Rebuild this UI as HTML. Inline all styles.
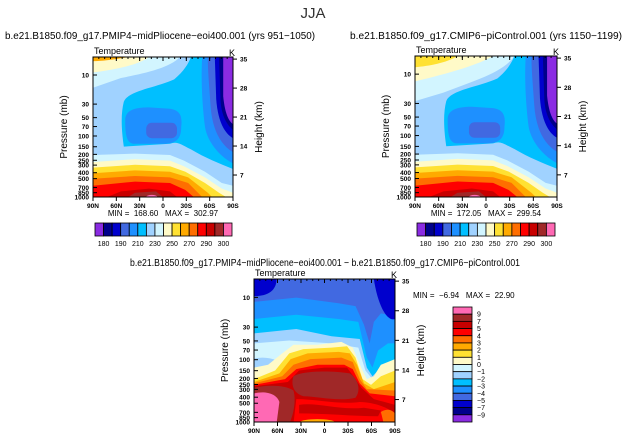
<!DOCTYPE html>
<html><head><meta charset="utf-8"><style>
html,body{margin:0;padding:0;background:#fff;}
svg{display:block;font-family:"Liberation Sans",sans-serif;}
</style></head><body>
<svg id="fig" width="627" height="440" viewBox="0 0 627 440" xmlns="http://www.w3.org/2000/svg">
<text x="313" y="18" font-size="15" text-anchor="middle" fill="#333">JJA</text>
<text x="5" y="39" font-size="10" textLength="310" lengthAdjust="spacingAndGlyphs">b.e21.B1850.f09_g17.PMIP4−midPliocene−eoi400.001  (yrs 951−1050)</text>
<text x="350" y="39" font-size="10" textLength="272" lengthAdjust="spacingAndGlyphs">b.e21.B1850.f09_g17.CMIP6−piControl.001  (yrs 1150−1199)</text>
<text x="130" y="266" font-size="10" textLength="390" lengthAdjust="spacingAndGlyphs">b.e21.B1850.f09_g17.PMIP4−midPliocene−eoi400.001  −  b.e21.B1850.f09_g17.CMIP6−piControl.001</text>
<g id="panels"></g>
</svg>
<script>
const NS="http://www.w3.org/2000/svg";
const lat=["90N","60N","30N","0","30S","60S","90S"];
const pTicks=[10,30,50,70,100,150,200,250,300,400,500,700,850,1000];
const zTicks=[35,28,21,14,7];
const absColors=["#8a2be2","#00008b","#0000cd","#4169e1","#1e90ff","#00bfff","#a0d2ff","#d2f5ff","#fffac8","#ffe132","#ffaa00","#ff6e00","#ff0000","#c80000","#a02828","#ff69b4"];
const absLabels=["180","190","210","230","250","270","290","300"];
const diffColors=["#ff69b4","#a02828","#c80000","#ff0000","#ff6e00","#ffaa00","#ffe132","#fffac8","#d2f5ff","#a0d2ff","#00bfff","#1e90ff","#4169e1","#0000cd","#00008b","#8a2be2"];
const diffLabels=["9","7","5","4","3","2","1","0","−1","−2","−3","−4","−5","−7","−9"];
const minmax=[["168.60","302.97"],["172.05","299.54"],["−6.94","22.90"]];

function el(tag,attrs,parent){const e=document.createElementNS(NS,tag);for(const k in attrs)e.setAttribute(k,attrs[k]);if(parent)parent.appendChild(e);return e;}
function band(pts){return "M"+pts.map(p=>p.join(",")).join(" L")+" L101,101 L-1,101 Z";}

const warmTop=[
 ["#d2f5ff",[[0,70],[30,69],[55,70],[65,74],[80,82],[92,90],[100,92]]],
 ["#fffac8",[[0,75],[30,73],[55,74],[65,78],[80,86],[92,94],[100,97]]],
 ["#ffe132",[[0,79],[30,77],[55,78],[66,82],[80,90],[90,97],[95,100]]],
 ["#ffaa00",[[0,83],[30,81],[55,82],[68,86],[82,97],[85,100]]],
 ["#ff6e00",[[0,87],[30,85],[55,86],[68,90],[78,100]]],
 ["#ff0000",[[0,92],[30,89],[55,90],[66,95],[72,100]]],
 ["#c80000",[[10,100],[20,96],[40,94],[55,96],[60,100]]],
 ["#a02828",[[25,100],[30,97],[45,96],[50,100]]]
];
function absShapes(g,variant){
  el("rect",{x:0,y:0,width:100,height:100,fill:"#a0d2ff"},g);
  if(variant===0){
    el("path",{d:"M0,0 L62,0 C55,8 35,12 20,15 L0,22 Z",fill:"#d2f5ff"},g);
    el("path",{d:"M0,0 L40,0 C32,6 15,9 0,11 Z",fill:"#fffac8"},g);
    el("path",{d:"M0,0 L25,0 C15,2 5,3 0,3 Z",fill:"#ffaa00"},g);
  } else {
    el("path",{d:"M0,0 L70,0 C62,12 40,18 20,26 L0,32 Z",fill:"#d2f5ff"},g);
    el("path",{d:"M0,0 L55,0 C45,6 25,12 0,18 Z",fill:"#fffac8"},g);
    el("path",{d:"M0,0 L30,0 C22,5 10,7 0,8 Z",fill:"#ffe132"},g);
  }
  el("path",{d:"M22,32 C25,24 45,22 58,16 C65,10 68,5 70,0 L100,0 L100,80 C90,76 80,72 70,66 C62,62 60,60 55,62 L22,64 C20,50 20,40 22,32 Z",fill:"#00bfff"},g);
  el("path",{d:"M23,45 C23,38 30,36 40,36 L55,37 C62,38 64,42 63,50 C63,58 60,62 50,62 L30,62 C24,62 23,56 23,45 Z",fill:"#1e90ff"},g);
  el("rect",{x:38,y:47,width:22,height:11,rx:4,fill:"#4169e1"},g);
  el("path",{d:"M78,0 L100,0 L100,76 C92,72 82,62 80,50 C78,35 77,15 78,0Z",fill:"#1e90ff"},g);
  el("path",{d:"M82,0 L100,0 L100,68 C90,62 85,50 84,35 C83,20 82,10 82,0Z",fill:"#4169e1"},g);
  el("path",{d:"M87,0 L100,0 L100,58 C93,54 89,44 88,30 Z",fill:"#0000cd"},g);
  el("path",{d:"M90,0 L100,0 L100,52 C95,48 91,40 91,28 Z",fill:"#00008b"},g);
  el("path",{d:"M93,0 L100,0 L100,48 C96,45 94,38 93,28 Z",fill:"#8a2be2"},g);
  warmTop.forEach(b=>el("path",{d:band(b[1]),fill:b[0]},g));
  el("ellipse",{cx:42,cy:100,rx:4,ry:1.5,fill:"#ff69b4"},g);
}
const diffBands=[
 ["#1e90ff",[[0,16],[30,13],[60,17],[72,19],[78,32],[82,45],[85,30],[90,24],[100,26]]],
 ["#00bfff",[[0,28],[30,25],[60,28],[74,30],[80,55],[84,62],[88,50],[95,45],[100,45]]],
 ["#a0d2ff",[[0,38],[30,35],[55,40],[75,42],[80,62],[84,68],[90,62],[100,58]]],
 ["#d2f5ff",[[0,45],[25,43],[55,45],[74,48],[79,64],[84,70],[92,64],[100,60]]],
 ["#fffac8",[[0,62],[10,60],[20,52],[28,46],[45,46],[62,44],[70,48],[76,62],[80,70],[85,68],[90,60],[100,56]]],
 ["#ffe132",[[0,70],[15,64],[25,52],[35,49],[55,48],[66,47],[72,55],[77,70],[83,74],[90,68],[100,64]]],
 ["#ffaa00",[[0,72],[18,66],[26,56],[38,52],[60,51],[68,52],[73,60],[78,73],[85,77],[100,72]]],
 ["#ff6e00",[[0,73],[20,68],[28,60],[40,56],[62,55],[70,58],[75,70],[80,77],[100,78]]],
 ["#ff0000",[[0,74],[22,70],[30,63],[45,60],[64,60],[70,63],[75,73],[82,80],[100,82]]],
 ["#c80000",[[0,75],[24,72],[32,64],[50,62],[66,62],[72,70],[76,76],[85,84],[100,88]]]
];
function diffShapes(g){
  el("rect",{x:0,y:0,width:100,height:100,fill:"#4169e1"},g);
  el("path",{d:"M0,0 L16,0 C16,8 10,12 0,12Z",fill:"#0000cd"},g);
  diffBands.forEach((b,i)=>{
    el("path",{d:band(b[1]),fill:b[0]},g);
    if(i===3){
      el("ellipse",{cx:6,cy:62,rx:14,ry:7,fill:"#a0d2ff"},g);
      el("ellipse",{cx:5,cy:66,rx:10,ry:4,fill:"#00bfff"},g);
    }
  });
  el("path",{d:"M85,0 L100,0 L100,28 C95,30 88,20 85,0Z",fill:"#0000cd"},g);
  el("path",{d:"M28,68 C35,64 55,64 68,66 C74,70 76,78 72,83 C60,86 45,82 35,82 C28,80 26,74 28,68 Z",fill:"#a02828"},g);
  el("path",{d:"M0,76 C10,74 22,74 28,78 C30,85 28,95 25,101 L0,101 Z",fill:"#a02828"},g);
  el("path",{d:"M30,84 C45,84 60,88 75,86 C85,86 95,90 100,94 L100,101 L28,101 Z",fill:"#ff0000"},g);
  el("path",{d:"M32,88 C45,86 60,92 78,90 L90,92 L88,96 C70,96 50,94 32,94 Z",fill:"#c80000"},g);
  el("path",{d:"M0,80 C8,78 16,80 18,86 L16,101 L0,101 Z",fill:"#ff69b4"},g);
  el("ellipse",{cx:45,cy:100,rx:12,ry:2,fill:"#ffaa00"},g);
  el("path",{d:"M90,93 C95,90 98,92 100,94 L100,101 L92,101 Z",fill:"#ff6e00"},g);
}

function panel(idx,x0,y0,w,h,shapesFn){
  const root=document.getElementById("panels");
  const g=el("g",{},root);
  
  
  const s=el("svg",{x:x0,y:y0,width:w,height:h,viewBox:"0 0 100 100",preserveAspectRatio:"none"},g);
  
  
  shapesFn(s);
  const frame=el("rect",{x:x0,y:y0,width:w,height:h,fill:"none",stroke:"#000","stroke-width":1},g);
  
  
  const yP=p=>y0+h-h*0.4357*(3-Math.log10(p));
  pTicks.forEach(p=>{
    const y=yP(p);
    el("line",{x1:x0,x2:x0+4,y1:y,y2:y,stroke:"#000"},g);
    const t=el("text",{x:x0-4,y:y+2.5,"font-size":6.5,"text-anchor":"end","font-weight":"bold"},g);
    t.textContent=p;
    
    
  });
  zTicks.forEach(z=>{
    const y=y0+h*(147/140)-h*(4.14/140)*z;
    el("line",{x1:x0+w,x2:x0+w+4,y1:y,y2:y,stroke:"#000"},g);
    const t=el("text",{x:x0+w+7,y:y+2.5,"font-size":6.5,"font-weight":"bold"},g);
    t.textContent=z;
    
    
  });
  lat.forEach((l,i)=>{
    const x=x0+w*i/(lat.length-1);
    el("line",{x1:x,x2:x,y1:y0+h,y2:y0+h+4,stroke:"#000"},g);
    el("line",{x1:x,x2:x,y1:y0,y2:y0+4,stroke:"#000"},g);
    const t=el("text",{x:x,y:y0+h+11,"font-size":6.5,"text-anchor":"middle","font-weight":"bold"},g);
    t.textContent=l;
    
    
  });
  for(let i=0;i<=24;i++){
    const x=x0+w*i/24;
    el("line",{x1:x,x2:x,y1:y0,y2:y0+2,stroke:"#000"},g);
  }
  const t1=el("text",{x:x0+1,y:y0-3,"font-size":9},g);t1.textContent="Temperature";
  
  const t2=el("text",{x:x0+w-4,y:y0-1,"font-size":9},g);t2.textContent="K";
  
  const yl=el("text",{x:0,y:0,"font-size":10,"text-anchor":"middle",transform:`translate(${x0-26},${y0+h/2}) rotate(-90)`},g);
  yl.textContent="Pressure (mb)";
  
  const yr=el("text",{x:0,y:0,"font-size":10,"text-anchor":"middle",transform:`translate(${x0+w+29},${y0+h/2}) rotate(-90)`},g);
  yr.textContent="Height (km)";
  
}

function hbar(x0,y0,w,h,labels){
  const root=document.getElementById("panels");
  const g=el("g",{},root);
  
  
  const bw=w/absColors.length;
  absColors.forEach((c,i)=>{
    const r=el("rect",{x:x0+i*bw,y:y0,width:bw,height:h,fill:c,stroke:"#000","stroke-width":0.8},g);
    
    
  });
  labels.forEach((l,i)=>{
    const t=el("text",{x:x0+bw*(1+2*i),y:y0+h+10,"font-size":7,"text-anchor":"middle"},g);
    t.textContent=l;
    
    
  });
}
function vbar(x0,y0,w,h){
  const root=document.getElementById("panels");
  const g=el("g",{},root);
  
  
  const bh=h/diffColors.length;
  diffColors.forEach((c,i)=>{
    const r=el("rect",{x:x0,y:y0+i*bh,width:w,height:bh,fill:c,stroke:"#000","stroke-width":0.8},g);
    
    
  });
  diffLabels.forEach((l,i)=>{
    const t=el("text",{x:x0+w+5,y:y0+bh*(i+1)+2.5,"font-size":7},g);
    t.textContent=l;
    
    
  });
}
function mm(i,x,y,anchor){
  const t=el("text",{x:x,y:y,"font-size":8,"text-anchor":anchor,style:"white-space:pre"},document.getElementById("panels"));
  t.textContent="MIN =  "+minmax[i][0]+"   MAX =  "+minmax[i][1];
  
  
}
panel(0,93,57,140,140,g=>absShapes(g,0));
panel(1,415,56,142,141,g=>absShapes(g,1));
panel(2,254,279,141,143,diffShapes);
mm(0,163,216,"middle");mm(1,486,216,"middle");mm(2,413,298,"start");
hbar(95,223,137,13,absLabels);
hbar(417,223,138,13,absLabels);
vbar(453,307,19,115);
</script>
</body></html>
